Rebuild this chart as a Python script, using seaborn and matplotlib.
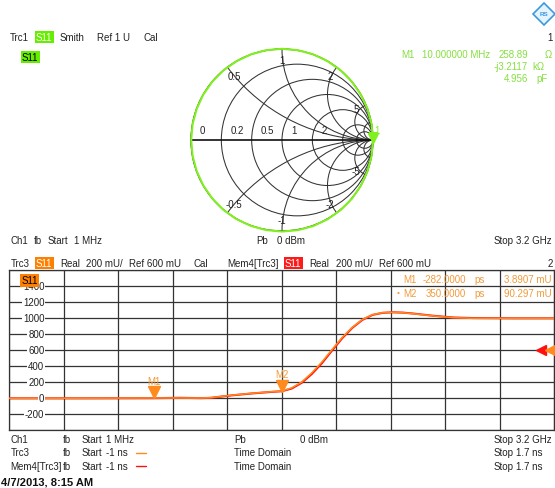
import numpy as np
import matplotlib
matplotlib.use('Agg')
import matplotlib.pyplot as plt
import matplotlib.transforms as mtransforms
from matplotlib.patches import Circle
from matplotlib.lines import Line2D
import seaborn as sns

# time domain traces (ns, mU)
time_ns = [-1.0, -0.6, -0.282, -0.15, -0.05, 0.0, 0.1, 0.2, 0.3, 0.35, 0.4, 0.45, 0.5,
           0.55, 0.6, 0.65, 0.7, 0.75, 0.8, 0.85, 0.9, 0.95, 1.0, 1.1, 1.2, 1.3, 1.5, 1.7]
trc3_mu = [0, 1, 3.9, 4, 3, 8, 38, 62, 82, 90.3, 130, 205, 320,
           455, 610, 760, 887, 985, 1045, 1070, 1075, 1070, 1058, 1030, 1008, 1000, 1000, 1000]
mem4_mu = [0, 0, 2, 6, 2, 6, 36, 60, 80, 88, 122, 195, 305,
           440, 598, 750, 880, 980, 1042, 1068, 1075, 1071, 1060, 1032, 1010, 1003, 1000, 1000]
t_start, t_stop = -1.0, 1.7
y_bottom, y_top, y_div = -400, 1600, 200
ref_level = 600

marker_names = ['M1', 'M2']
marker_time = [-0.282, 0.350]
marker_value = [3.8907, 90.297]

# smith chart trace (reflection coefficient, polar)
smith_phase_deg = [0, -10, -20, -30, -40, -50, -60, -70, -80, -90, -100, -110, -120,
                   -130, -140, -150, -160, -170, -180, -190, -200, -210, -220, -230, -240,
                   -250, -260, -270, -280, -290, -300, -310, -320, -330, -340, -350, -360]
smith_mag = [1.0, 1.0, 1.0, 1.002, 1.003, 1.004, 1.005, 1.006, 1.006, 1.006, 1.005, 1.004,
             1.003, 1.002, 1.0, 0.999, 0.998, 0.998, 0.998, 0.998, 0.998, 0.999, 0.999,
             1.0, 1.0, 1.001, 1.002, 1.002, 1.002, 1.002, 1.001, 1.001, 1.0, 1.0, 1.0,
             1.0, 1.0]
m1_res_ohm, m1_react_ohm, z0 = 258.89, -3211.7, 50.0
r_circles = [0.2, 0.5, 1, 2, 5, 10]
x_arcs = [0.5, 1, 2, 5, 10]
r_labels = [0, 0.2, 0.5, 1, 2]
x_labels = [0.5, 1, 2, 5]

W, H = 555, 489
green = '#80f020'
green_txt = '#86e040'
orange = '#ff8a1e'
orange_txt = '#f39a3a'
red = '#ff1010'
grid_c = '#333333'

sns.set_theme(style='white')
plt.rcParams['font.family'] = ['Liberation Sans', 'DejaVu Sans']
plt.rcParams['font.size'] = 7

fig = plt.figure(figsize=(W / 100, H / 100), dpi=100)
fig.patch.set_facecolor('white')


def ftxt(x, y, s, **kw):
    kw.setdefault('va', 'center')
    kw.setdefault('fontsize', 7)
    kw.setdefault('color', '#222222')
    return fig.text(x / W, 1 - y / H, s, **kw)


# ---------------- Smith chart ----------------
L = 1.1
cx, cy, R = 282, 141, 91
rect = [(cx - R * L) / W, 1 - (cy + R * L) / H, 2 * R * L / W, 2 * R * L / H]
sax = fig.add_axes(rect)
sax.set_xlim(-L, L)
sax.set_ylim(-L, L)
sax.axis('off')
unit = Circle((0, 0), 1, fill=False, ec='#111111', lw=0.9, zorder=3)
sax.add_patch(unit)
for r in r_circles:
    c = Circle((r / (1 + r), 0), 1 / (1 + r), fill=False, ec=grid_c, lw=0.75)
    sax.add_patch(c)
    c.set_clip_path(unit)
for xv in x_arcs:
    for s in (1, -1):
        c = Circle((1, s / xv), 1 / xv, fill=False, ec=grid_c, lw=0.75)
        sax.add_patch(c)
        c.set_clip_path(unit)
sax.plot([-1, 1], [0, 0], color='#111111', lw=1.2)
for r in r_labels:
    sax.text((r - 1) / (r + 1) + 0.1, 0.11, f'{r:g}', ha='left', va='center', fontsize=7,
             color='#222222')
for xv in x_labels:
    for s in (1, -1):
        g = (complex(0, s * xv) - 1) / (complex(0, s * xv) + 1)
        sax.text(0.88 * g.real, 0.88 * g.imag, f'{s * xv:g}', ha='center', va='center',
                 fontsize=7, color='#222222')

pax = fig.add_axes(rect, projection='polar', frameon=False)
pax.set_facecolor('none')
pax.set_ylim(0, L)
pax.grid(False)
pax.set_xticks([])
pax.set_yticks([])
pax.plot(np.deg2rad(smith_phase_deg), smith_mag, color=green, lw=1.5, zorder=4)
z_m1 = complex(m1_res_ohm, m1_react_ohm) / z0
gam = (z_m1 - 1) / (z_m1 + 1)
pax.plot([np.angle(gam)], [abs(gam)], marker='v', ms=7.5, color=green, ls='none', zorder=5,
         transform=mtransforms.offset_copy(pax.transData, fig=fig, y=3.75, units='points'))
pax.annotate('1', xy=(np.angle(gam), abs(gam)), xytext=(3, 9.5), textcoords='offset points',
             color=green, fontsize=7, ha='center', va='center')

# ---------------- time domain diagram ----------------
left_px, right_px, top_px, bot_px = 9.3, 554, 271.3, 431.3
ax = fig.add_axes([left_px / W, 1 - bot_px / H, (right_px - left_px) / W, (bot_px - top_px) / H])
ax.set_xlim(t_start, t_stop)
ax.set_ylim(y_bottom, y_top)
ax.set_xticks(np.linspace(t_start, t_stop, 11))
ax.set_yticks(np.arange(y_bottom, y_top + 1, y_div))
ax.tick_params(length=0, labelbottom=False, labelleft=False)
ax.grid(True, color=grid_c, lw=0.9)
for sp in ax.spines.values():
    sp.set_color(grid_c)
    sp.set_linewidth(0.9)

sns.lineplot(x=time_ns, y=mem4_mu, ax=ax, color=red, lw=1.5, zorder=3)
sns.lineplot(x=time_ns, y=trc3_mu, ax=ax, color=orange, lw=1.1, zorder=4)

tri_off = mtransforms.offset_copy(ax.transData, fig=fig, y=4, units='points')
for name, t, v in zip(marker_names, marker_time, marker_value):
    ax.plot([t], [v], marker='v', ms=8, color=orange, ls='none', transform=tri_off, zorder=5)
    ax.annotate(name, xy=(t, v), xytext=(0, 12), textcoords='offset points',
                ha='center', va='center', color=orange_txt, fontsize=7)

# y value labels drawn over the grid
blend = mtransforms.blended_transform_factory(ax.transAxes, ax.transData)
for yv in range(y_bottom + y_div, y_top, y_div):
    ax.text(0.0645, yv, f'{yv}', transform=blend, ha='right', va='center', fontsize=7,
            color='#222222', bbox=dict(facecolor='white', edgecolor='none', pad=0.6), zorder=6)

# reference level arrows
ax.plot([0.976], [ref_level], marker='<', ms=6.5, color=red, transform=blend, clip_on=False, zorder=6)
ax.plot([0.993], [ref_level], marker='<', ms=6.5, color=orange, transform=blend, clip_on=False, zorder=6)

# marker readout table
for i, (name, t, v) in enumerate(zip(marker_names, marker_time, marker_value)):
    yy = 280 + 14 * i
    if i == 1:
        ftxt(397, yy, '\u2022', color=orange_txt, fontsize=6)
    ftxt(403.3, yy, name, color=orange_txt)
    ftxt(466, yy, f'{t * 1000:.4f}', color=orange_txt, ha='right')
    ftxt(474.3, yy, 'ps', color=orange_txt)
    ftxt(552, yy, f'{v:.5g} mU' if v < 10 else f'{v:.3f} mU', color=orange_txt, ha='right')

ftxt(21.5, 281.5, 'S11', color='black', zorder=10,
     bbox=dict(facecolor='#ff8000', edgecolor='none', pad=0.8))

# ---------------- header / footer texts ----------------
ftxt(10, 38, 'Trc1')
ftxt(36, 38, 'S11', color='white', bbox=dict(facecolor='#66ee00', edgecolor='none', pad=0.8))
ftxt(59.5, 38, 'Smith')
ftxt(97, 38, 'Ref 1 U')
ftxt(143.5, 38, 'Cal')
ftxt(22, 58, 'S11', color='black', bbox=dict(facecolor='#66ee00', edgecolor='none', pad=0.8))
ftxt(553, 38, '1', ha='right')

ftxt(401, 55, 'M1', color=green_txt)
ftxt(422, 55, '10.000000 MHz', color=green_txt)
ftxt(528, 55, '258.89', color=green_txt, ha='right')
ftxt(545, 55, '\u03a9', color=green_txt)
ftxt(528, 67, '-j3.2117', color=green_txt, ha='right')
ftxt(532, 67, 'k\u03a9', color=green_txt)
ftxt(528, 79, '4.956', color=green_txt, ha='right')
ftxt(536, 79, 'pF', color=green_txt)

fig.add_artist(Line2D([544 / W], [1 - 15 / H], marker='D', ms=11, mfc='#e4f3fc',
                      mec='#3a9ae0', mew=1.2, transform=fig.transFigure))
ftxt(544, 15, 'RS', color='#3a9ae0', fontsize=4.5, ha='center', fontweight='bold')

ftxt(10.6, 241.5, 'Ch1')
ftxt(34.3, 241.5, 'fb')
ftxt(47.8, 241.5, 'Start')
ftxt(74.3, 241.5, '1 MHz')
ftxt(256, 241.5, 'Pb')
ftxt(277, 241.5, '0 dBm')
ftxt(494, 241.5, 'Stop')
ftxt(515.7, 241.5, '3.2 GHz')

ftxt(10.6, 264, 'Trc3')
ftxt(36, 264, 'S11', color='white', bbox=dict(facecolor='#ff8000', edgecolor='none', pad=0.8))
ftxt(60.2, 264, 'Real')
ftxt(86, 264, '200 mU/')
ftxt(129.2, 264, 'Ref 600 mU')
ftxt(194, 264, 'Cal')
ftxt(227.6, 264, 'Mem4[Trc3]')
ftxt(285, 264, 'S11', color='white', bbox=dict(facecolor='#ff1a1a', edgecolor='none', pad=0.8))
ftxt(309, 264, 'Real')
ftxt(335.6, 264, '200 mU/')
ftxt(378.8, 264, 'Ref 600 mU')
ftxt(553, 264, '2', ha='right')

rows = [('Ch1', 'Start', '1 MHz', 'Pb', '0 dBm', '3.2 GHz', None),
        ('Trc3', 'Start', '-1 ns', 'Time Domain', '', '1.7 ns', orange),
        ('Mem4[Trc3]', 'Start', '-1 ns', 'Time Domain', '', '1.7 ns', red)]
for i, (a, b, c, d, e, f, lc) in enumerate(rows):
    yy = 440 + 13.5 * i
    ftxt(10.6, yy, a)
    ftxt(62.5, yy, 'fb')
    ftxt(81.4, yy, b)
    ftxt(106.2, yy, c)
    ftxt(234.3, yy, d)
    if e:
        ftxt(300.2, yy, e)
    ftxt(494, yy, 'Stop')
    ftxt(515.7, yy, f)
    if lc:
        fig.add_artist(Line2D([136 / W, 146 / W], [1 - yy / H] * 2, color=lc, lw=1,
                              transform=fig.transFigure))

ftxt(1, 483, '4/7/2013, 8:15 AM', fontsize=8, fontweight='bold', color='#111111')

fig.savefig('out.png', dpi=100)
